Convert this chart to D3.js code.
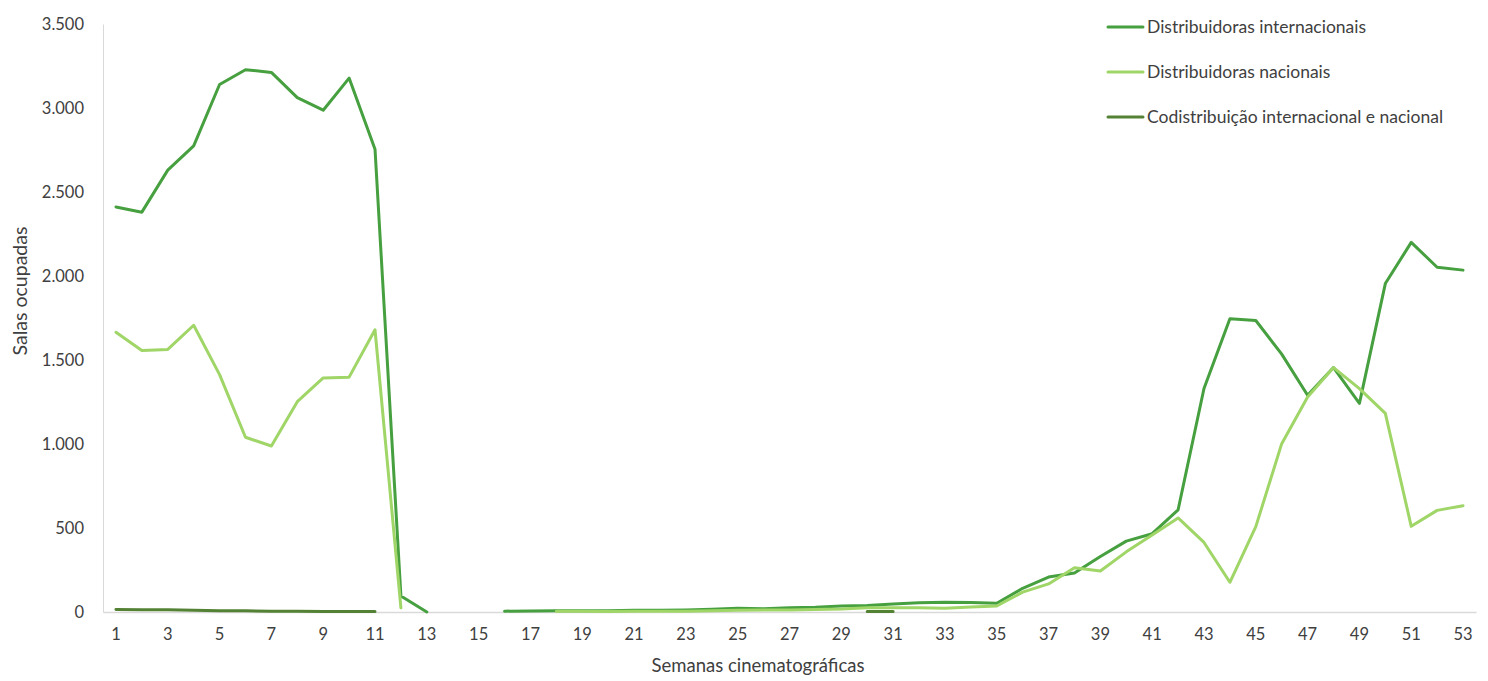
<!DOCTYPE html>
<html><head><meta charset="utf-8">
<script src="https://cdn.jsdelivr.net/npm/d3@7"></script>
<style>
html,body{margin:0;padding:0;background:#fff;}
svg text{font-family:"Lato","Open Sans",sans-serif;}
</style></head>
<body><svg id="c" width="1488" height="681"></svg>
<script>
const weeks = d3.range(1, 54);
const yTicks = [0, 500, 1000, 1500, 2000, 2500, 3000, 3500];
const xTickWeeks = weeks.filter(w => w % 2 === 1);
const seriesNames = ["Distribuidoras internacionais", "Distribuidoras nacionais", "Codistribuição internacional e nacional"];
const seriesColors = ["#47A03F", "#A0D567", "#548235"];
const N = null;
const internacionais = [2411,2380,2630,2775,3140,3228,3212,3062,2987,3178,2755,95,0,N,N,5,6,8,8,8,10,10,12,16,22,20,25,28,35,38,48,55,58,56,52,141,208,232,330,422,466,608,1330,1745,1735,1535,1290,1455,1242,1955,2200,2052,2035];
const nacionais = [1665,1557,1563,1707,1413,1040,988,1252,1393,1398,1680,25,N,N,N,N,N,5,5,3,5,5,5,8,10,12,12,15,18,25,25,25,22,30,36,118,167,264,244,358,458,560,414,177,508,1002,1280,1455,1330,1182,510,605,633];
const codistribuicao = [15,13,13,10,7,7,5,4,3,3,3,N,N,N,N,N,N,N,N,N,N,N,N,N,N,N,N,N,N,3,3,N,N,N,N,N,N,N,N,N,N,N,N,N,N,N,N,N,N,N,N,N,N];
const seriesValues = [internacionais, nacionais, codistribuicao];

const svg = d3.select("#c");
const mLeft = 103, mRight = 1476, mTop = 24, mBottom = 612;
const x = d3.scaleBand().domain(weeks).range([mLeft, mRight]).padding(0);
const y = d3.scaleLinear().domain([0, 3500]).range([mBottom, mTop]);
const cx = w => x(w) + x.bandwidth() / 2;

// axes
const yAxis = d3.axisLeft(y).tickValues(yTicks).tickSize(0).tickPadding(19)
  .tickFormat(d => d3.format(",")(d).replace(/,/g, "."));
const gy = svg.append("g").attr("transform", `translate(${mLeft},0)`).call(yAxis);
gy.select(".domain").attr("stroke", "#d9d9d9").attr("stroke-width", 1);
gy.selectAll("text").attr("font-size", 16.5).attr("fill", "#404040");

const xAxis = d3.axisBottom(x).tickValues(xTickWeeks).tickSize(0).tickPadding(16);
const gx = svg.append("g").attr("transform", `translate(0,${mBottom})`).call(xAxis);
gx.select(".domain").attr("stroke", "#d9d9d9").attr("stroke-width", 1.3);
gx.selectAll("text").attr("font-size", 16.5).attr("fill", "#404040");

// lines
const line = d3.line().defined(d => d.v !== null).x(d => cx(d.w)).y(d => y(d.v));
seriesValues.forEach((vals, i) => {
  const data = weeks.map((w, k) => ({w, v: vals[k]}));
  svg.append("path").datum(data).attr("d", line)
    .attr("fill", "none").attr("stroke", seriesColors[i]).attr("stroke-width", 3)
    .attr("stroke-linejoin", "round").attr("stroke-linecap", "round");
});

// titles
svg.append("text").attr("x", 758).attr("y", 672).attr("text-anchor", "middle")
  .attr("font-size", 18.5).attr("fill", "#404040").text("Semanas cinematográficas");
svg.append("text").attr("transform", `translate(27,291) rotate(-90)`)
  .attr("text-anchor", "middle").attr("font-size", 19.5).attr("fill", "#404040").text("Salas ocupadas");

// legend
const lg = svg.append("g");
seriesNames.forEach((n, i) => {
  const yy = 27 + i * 45;
  lg.append("line").attr("x1", 1108).attr("x2", 1143).attr("y1", yy).attr("y2", yy)
    .attr("stroke", seriesColors[i]).attr("stroke-width", 3).attr("stroke-linecap", "round");
  lg.append("text").attr("x", 1147).attr("y", yy).attr("dy", "0.35em")
    .attr("font-size", 17.5).attr("fill", "#404040").text(n);
});
</script></body></html>
